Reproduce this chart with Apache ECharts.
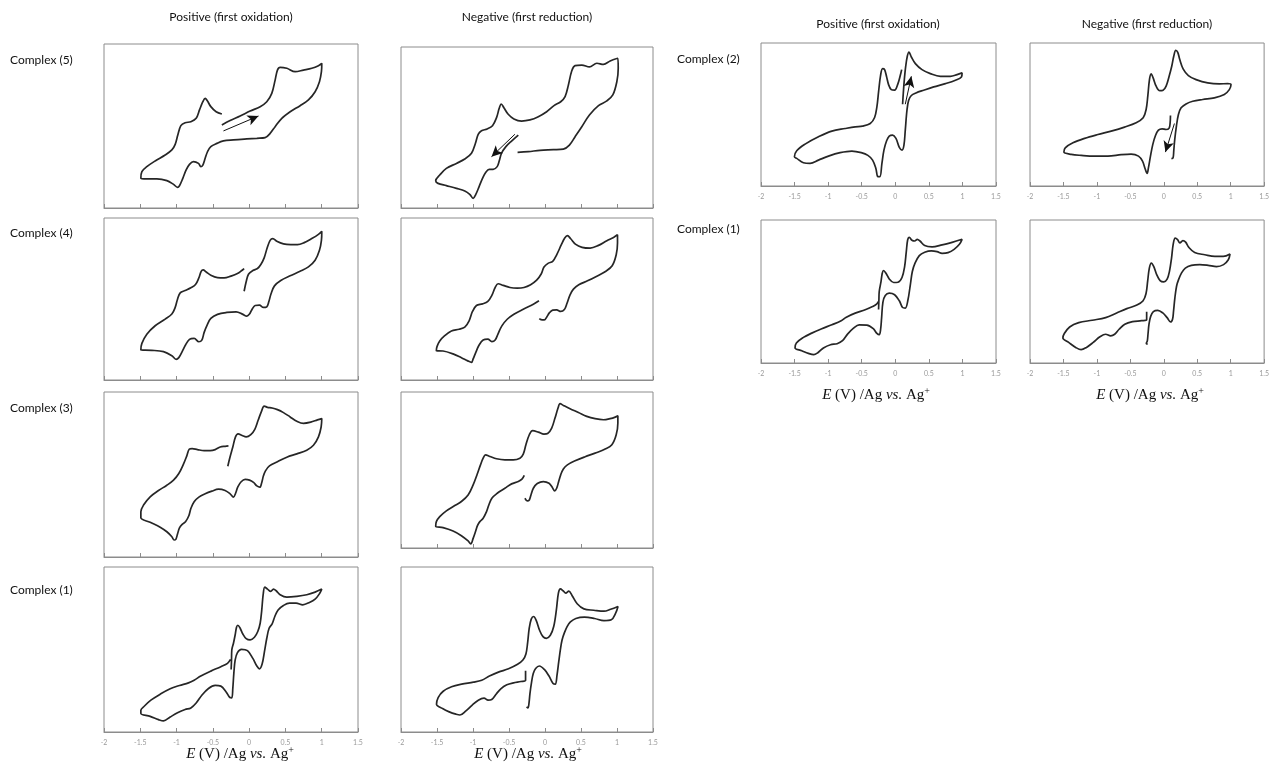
<!DOCTYPE html>
<html>
<head>
<meta charset="utf-8">
<script src="https://cdn.jsdelivr.net/npm/echarts@6/dist/echarts.min.js"></script>
<style>
  html, body { margin: 0; padding: 0; background: #fff; }
  #chart { width: 1272px; height: 772px; }
</style>
</head>
<body>
<div id="chart"></div>
<script>
// Cyclic voltammograms: [E (V vs Ag/Ag+), current (arbitrary units, 0-100)]
const xTicks = [-2, -1.5, -1, -0.5, 0, 0.5, 1, 1.5];

const cx5Ox = [[-0.376,50.6],[-0.262,53.3],[-0.124,56.1],[0.014,59.1],[0.152,61.8],[0.243,64.8],[0.312,69.9],[0.358,78.0],[0.390,84.1],[0.427,85.8],[0.519,85.2],[0.634,83.1],[0.748,84.1],[0.863,85.2],[0.955,86.8],[1.001,88.2],[0.996,83.1],[0.969,77.0],[0.909,70.9],[0.817,65.9],[0.702,62.4],[0.565,58.7],[0.450,54.7],[0.358,49.6],[0.289,45.5],[0.220,42.9],[0.106,42.5],[-0.032,42.1],[-0.216,41.5],[-0.354,40.9],[-0.445,39.4],[-0.528,37.4],[-0.574,34.3],[-0.606,30.3],[-0.638,26.2],[-0.666,25.2],[-0.698,27.2],[-0.767,28.3],[-0.822,26.6],[-0.868,23.2],[-0.914,18.1],[-0.960,13.6],[-0.987,12.6],[-1.042,14.4],[-1.134,16.7],[-1.272,17.7],[-1.410,17.7],[-1.492,18.1],[-1.478,22.2],[-1.410,25.2],[-1.295,28.7],[-1.157,32.3],[-1.065,35.4],[-1.019,38.8],[-0.983,44.5],[-0.941,50.2],[-0.882,52.0],[-0.803,52.6],[-0.730,54.7],[-0.684,59.8],[-0.638,64.8],[-0.606,66.9],[-0.574,65.2],[-0.528,61.8],[-0.455,58.7],[-0.376,57.3]];
const cx5OxArrow = [[-0.354,47.0],[0.129,56.1]];

const cx5Red = [[-0.371,45.3],[-0.464,41.6],[-0.543,38.1],[-0.604,34.0],[-0.636,29.2],[-0.664,25.7],[-0.720,24.0],[-0.775,24.0],[-0.822,22.2],[-0.868,18.4],[-0.915,13.3],[-0.961,8.5],[-0.998,6.0],[-1.045,8.5],[-1.114,10.6],[-1.230,12.2],[-1.370,13.9],[-1.486,15.3],[-1.518,17.0],[-1.462,20.5],[-1.370,24.6],[-1.230,27.7],[-1.114,30.4],[-1.021,34.0],[-0.966,40.2],[-0.928,45.8],[-0.882,48.0],[-0.803,49.1],[-0.729,51.1],[-0.673,56.1],[-0.636,61.9],[-0.608,64.6],[-0.571,62.3],[-0.511,58.2],[-0.432,55.3],[-0.325,54.0],[-0.209,54.7],[-0.093,56.7],[0.023,59.8],[0.125,63.6],[0.218,66.0],[0.279,69.2],[0.325,76.4],[0.371,85.1],[0.418,88.4],[0.511,88.8],[0.617,87.6],[0.720,89.9],[0.812,89.2],[0.905,91.3],[1.012,93.0],[1.017,86.7],[0.998,78.5],[0.942,70.2],[0.859,66.5],[0.743,63.6],[0.617,57.8],[0.511,50.5],[0.418,44.3],[0.339,39.1],[0.255,36.6],[0.116,36.2],[-0.070,35.8],[-0.232,35.0],[-0.381,34.6]];
const cx5RedArrow = [[-0.418,45.8],[-0.743,31.9]];

const cx4Ox = [[-0.069,54.8],[-0.041,60.6],[-0.009,65.3],[0.051,67.6],[0.115,68.8],[0.161,71.3],[0.207,75.4],[0.248,81.5],[0.289,86.2],[0.326,87.3],[0.381,85.6],[0.473,84.0],[0.574,83.6],[0.666,83.6],[0.758,84.8],[0.863,87.3],[0.955,89.9],[1.001,91.8],[0.996,86.2],[0.969,80.1],[0.909,73.9],[0.817,69.8],[0.702,67.1],[0.565,64.3],[0.436,61.4],[0.349,58.1],[0.303,53.4],[0.271,48.3],[0.243,45.2],[0.197,44.8],[0.142,46.2],[0.083,46.0],[0.041,43.7],[0.005,40.7],[-0.032,39.4],[-0.087,40.5],[-0.179,42.1],[-0.308,41.7],[-0.436,40.5],[-0.528,38.0],[-0.579,33.9],[-0.620,29.4],[-0.652,24.6],[-0.693,23.6],[-0.758,25.7],[-0.822,25.1],[-0.877,21.6],[-0.923,17.5],[-0.969,13.8],[-1.006,12.7],[-1.065,15.0],[-1.180,17.5],[-1.341,18.3],[-1.492,18.5],[-1.478,22.6],[-1.410,28.3],[-1.295,33.5],[-1.157,37.6],[-1.065,40.7],[-1.019,44.8],[-0.987,49.9],[-0.950,53.8],[-0.882,55.2],[-0.803,56.9],[-0.739,58.9],[-0.693,63.0],[-0.661,67.1],[-0.634,68.0],[-0.592,66.7],[-0.528,64.7],[-0.436,63.2],[-0.344,63.0],[-0.253,64.1],[-0.161,65.7],[-0.101,67.6],[-0.069,68.8]];

const cx4Red = [[-0.084,48.9],[-0.162,46.8],[-0.302,43.7],[-0.432,40.6],[-0.525,37.5],[-0.599,33.4],[-0.655,28.2],[-0.692,24.7],[-0.738,23.7],[-0.794,25.2],[-0.859,24.7],[-0.915,21.6],[-0.961,17.1],[-0.998,13.0],[-1.021,10.9],[-1.072,11.8],[-1.161,13.8],[-1.277,16.1],[-1.416,17.9],[-1.509,18.1],[-1.500,20.6],[-1.462,24.1],[-1.393,27.4],[-1.300,30.3],[-1.193,31.3],[-1.114,32.6],[-1.054,36.5],[-1.007,42.3],[-0.952,46.0],[-0.868,47.0],[-0.794,48.5],[-0.738,52.2],[-0.692,57.1],[-0.650,59.4],[-0.580,58.4],[-0.487,57.1],[-0.385,56.7],[-0.292,57.1],[-0.200,58.8],[-0.116,61.6],[-0.051,65.6],[-0.014,69.7],[0.042,72.0],[0.107,73.2],[0.162,77.3],[0.227,83.5],[0.274,87.6],[0.311,89.1],[0.357,87.2],[0.422,83.9],[0.515,81.9],[0.627,81.4],[0.743,83.1],[0.859,86.0],[0.952,88.0],[1.007,89.7],[1.007,84.5],[0.989,77.3],[0.933,70.5],[0.840,67.0],[0.720,64.1],[0.590,61.2],[0.469,58.8],[0.395,56.1],[0.348,52.6],[0.306,47.4],[0.269,43.5],[0.218,42.3],[0.162,43.3],[0.107,43.1],[0.060,41.4],[0.023,38.8],[-0.009,37.1],[-0.056,37.3],[-0.079,37.9]];

const cx3Ox = [[-0.294,55.0],[-0.266,60.1],[-0.225,66.7],[-0.188,72.8],[-0.152,74.6],[-0.096,73.6],[-0.041,72.8],[0.023,74.2],[0.078,77.4],[0.124,82.9],[0.170,88.3],[0.207,91.5],[0.253,90.7],[0.317,90.3],[0.390,89.3],[0.473,87.5],[0.565,84.9],[0.657,82.3],[0.748,81.0],[0.849,81.7],[0.941,83.1],[1.001,83.9],[0.992,78.8],[0.955,72.8],[0.886,67.7],[0.794,64.7],[0.657,62.5],[0.519,60.5],[0.390,57.7],[0.280,55.2],[0.225,52.2],[0.197,49.2],[0.174,45.2],[0.147,42.3],[0.106,43.1],[0.060,45.2],[0.005,46.6],[-0.055,47.0],[-0.110,45.6],[-0.156,42.5],[-0.188,38.5],[-0.216,36.3],[-0.262,38.3],[-0.331,40.3],[-0.422,41.1],[-0.514,39.9],[-0.606,38.3],[-0.693,36.3],[-0.758,33.5],[-0.803,29.4],[-0.831,25.0],[-0.877,21.4],[-0.923,19.8],[-0.960,17.7],[-0.987,13.9],[-1.010,10.7],[-1.033,10.3],[-1.065,12.3],[-1.134,15.3],[-1.226,18.1],[-1.364,21.0],[-1.492,23.8],[-1.492,27.4],[-1.455,31.5],[-1.364,36.5],[-1.249,40.3],[-1.134,43.5],[-1.042,46.6],[-0.969,50.6],[-0.905,56.3],[-0.859,61.3],[-0.826,65.3],[-0.785,65.7],[-0.712,65.1],[-0.620,64.5],[-0.537,64.5],[-0.468,65.1],[-0.399,66.7],[-0.331,67.1],[-0.285,67.3]];

const cx3Red = [[-0.288,46.5],[-0.320,44.1],[-0.371,42.6],[-0.464,41.1],[-0.557,38.3],[-0.664,35.1],[-0.738,31.9],[-0.780,27.6],[-0.812,23.3],[-0.859,19.1],[-0.905,16.9],[-0.938,14.3],[-0.961,11.1],[-0.998,6.2],[-1.031,2.6],[-1.068,4.5],[-1.161,7.9],[-1.277,10.9],[-1.416,13.1],[-1.518,13.9],[-1.509,16.9],[-1.462,20.1],[-1.370,23.8],[-1.253,27.2],[-1.161,29.8],[-1.068,34.0],[-0.998,40.5],[-0.942,47.3],[-0.896,53.3],[-0.859,57.6],[-0.826,59.7],[-0.766,58.7],[-0.673,57.2],[-0.557,56.5],[-0.441,56.5],[-0.348,57.6],[-0.302,60.2],[-0.265,66.2],[-0.218,72.6],[-0.172,75.2],[-0.093,74.3],[-0.014,73.0],[0.037,73.4],[0.093,76.9],[0.139,83.3],[0.181,89.7],[0.209,92.5],[0.255,91.4],[0.348,89.3],[0.464,86.9],[0.580,84.4],[0.696,82.9],[0.812,82.2],[0.905,82.9],[0.975,83.9],[1.012,84.8],[1.012,80.1],[0.989,72.6],[0.929,66.2],[0.836,63.4],[0.696,60.8],[0.557,58.5],[0.418,55.9],[0.311,53.3],[0.255,50.7],[0.218,46.9],[0.190,42.6],[0.162,38.3],[0.135,36.6],[0.102,38.8],[0.056,41.5],[-0.023,42.6],[-0.107,41.3],[-0.162,38.3],[-0.195,34.0],[-0.218,30.8],[-0.246,30.2],[-0.279,31.9]];

const cx1Ox = [[-0.248,37.9],[-0.243,43.6],[-0.239,49.7],[-0.216,53.8],[-0.193,58.8],[-0.174,63.5],[-0.156,64.7],[-0.124,62.9],[-0.087,59.4],[-0.041,56.6],[0.014,55.8],[0.073,57.4],[0.119,60.9],[0.152,65.9],[0.174,74.0],[0.193,83.2],[0.216,87.8],[0.253,86.6],[0.298,85.2],[0.335,86.6],[0.372,85.6],[0.427,83.2],[0.519,81.7],[0.657,82.2],[0.794,83.2],[0.909,84.8],[1.001,86.6],[0.969,83.8],[0.909,80.5],[0.831,78.5],[0.739,77.1],[0.647,78.1],[0.556,78.1],[0.473,76.7],[0.399,74.0],[0.354,70.0],[0.317,65.5],[0.275,62.9],[0.243,56.8],[0.211,48.7],[0.179,41.2],[0.142,38.3],[0.106,40.0],[0.051,44.6],[-0.023,49.3],[-0.106,50.1],[-0.161,48.1],[-0.193,43.6],[-0.211,35.5],[-0.225,26.4],[-0.239,20.7],[-0.266,20.9],[-0.317,24.3],[-0.390,27.8],[-0.468,28.2],[-0.560,26.4],[-0.652,22.3],[-0.730,17.6],[-0.803,14.6],[-0.882,13.6],[-0.987,11.6],[-1.088,9.1],[-1.180,6.7],[-1.249,7.5],[-1.364,9.5],[-1.492,11.2],[-1.492,13.2],[-1.446,15.6],[-1.354,19.3],[-1.226,22.9],[-1.088,26.2],[-0.960,28.2],[-0.836,29.8],[-0.758,31.4],[-0.666,33.9],[-0.528,36.9],[-0.390,39.6],[-0.298,41.6],[-0.257,44.0]];

const cx1Red = [[-0.270,37.1],[-0.270,31.4],[-0.335,30.6],[-0.437,29.8],[-0.530,28.6],[-0.614,26.2],[-0.679,22.9],[-0.740,19.7],[-0.791,19.3],[-0.847,20.5],[-0.926,19.3],[-1.014,16.2],[-1.098,12.8],[-1.181,10.3],[-1.237,10.8],[-1.330,12.2],[-1.423,14.2],[-1.507,16.8],[-1.484,20.9],[-1.414,24.7],[-1.298,27.4],[-1.158,29.0],[-0.995,30.2],[-0.879,31.4],[-0.772,33.9],[-0.647,36.3],[-0.507,38.3],[-0.381,41.0],[-0.307,43.6],[-0.265,47.3],[-0.242,53.8],[-0.219,62.9],[-0.191,68.4],[-0.158,70.0],[-0.121,67.5],[-0.074,61.5],[-0.028,57.8],[0.019,56.8],[0.074,58.6],[0.121,63.9],[0.158,74.0],[0.186,84.2],[0.214,86.8],[0.251,85.6],[0.288,84.2],[0.330,85.4],[0.377,82.6],[0.447,77.7],[0.540,74.6],[0.679,73.8],[0.819,73.2],[0.912,74.4],[1.014,76.1],[0.981,72.0],[0.921,68.0],[0.819,67.5],[0.688,68.8],[0.549,69.6],[0.428,68.8],[0.353,66.7],[0.307,63.9],[0.270,60.2],[0.237,55.8],[0.214,50.1],[0.191,42.6],[0.167,34.5],[0.144,29.0],[0.112,29.4],[0.056,33.9],[-0.009,37.9],[-0.079,40.0],[-0.130,38.5],[-0.163,35.5],[-0.186,30.4],[-0.209,23.3],[-0.223,17.2],[-0.237,14.6],[-0.256,15.2]];

const cx2Ox = [[0.109,57.2],[0.119,64.7],[0.134,74.0],[0.154,83.3],[0.179,90.7],[0.204,93.7],[0.239,90.2],[0.299,85.6],[0.398,81.4],[0.522,78.6],[0.672,76.7],[0.821,76.7],[0.920,77.9],[0.995,79.1],[0.985,76.3],[0.896,74.0],[0.746,71.6],[0.572,69.3],[0.423,67.0],[0.308,65.1],[0.239,63.3],[0.199,60.0],[0.174,53.0],[0.149,39.1],[0.129,28.6],[0.100,25.1],[0.060,27.0],[0.010,33.3],[-0.040,35.6],[-0.090,34.9],[-0.129,31.6],[-0.169,25.1],[-0.199,15.8],[-0.229,6.5],[-0.259,6.5],[-0.289,12.3],[-0.338,18.1],[-0.408,21.4],[-0.507,23.3],[-0.647,24.4],[-0.821,23.3],[-0.995,20.9],[-1.144,18.1],[-1.269,15.8],[-1.368,16.3],[-1.468,19.3],[-1.502,20.5],[-1.468,24.7],[-1.343,29.3],[-1.144,34.4],[-0.945,38.4],[-0.746,40.2],[-0.597,41.4],[-0.488,41.9],[-0.373,43.7],[-0.308,47.9],[-0.274,55.3],[-0.249,65.8],[-0.219,77.4],[-0.189,82.1],[-0.159,81.4],[-0.129,76.3],[-0.100,70.9],[-0.060,67.4],[-0.010,67.0],[0.040,71.6],[0.075,77.4],[0.095,81.4]];
const cx2OxArrow = [[0.149,57.2],[0.239,76.7]];

const cx2Red = [[0.100,49.3],[0.095,44.2],[0.080,40.5],[0.035,39.5],[-0.025,40.0],[-0.080,39.1],[-0.124,35.3],[-0.164,29.1],[-0.199,20.9],[-0.229,12.8],[-0.249,8.8],[-0.279,12.1],[-0.318,17.4],[-0.378,20.9],[-0.488,22.3],[-0.637,21.9],[-0.836,20.9],[-1.035,20.9],[-1.234,21.4],[-1.383,22.1],[-1.493,23.7],[-1.473,26.7],[-1.358,30.2],[-1.184,33.3],[-0.985,36.0],[-0.786,38.4],[-0.587,41.2],[-0.413,44.2],[-0.308,47.7],[-0.264,53.5],[-0.239,62.8],[-0.214,74.4],[-0.189,78.4],[-0.159,75.6],[-0.114,69.8],[-0.060,66.7],[-0.010,67.0],[0.035,69.8],[0.080,76.7],[0.119,83.7],[0.149,90.7],[0.179,94.9],[0.209,93.5],[0.239,88.4],[0.289,81.9],[0.368,77.2],[0.483,74.4],[0.657,72.1],[0.831,71.4],[0.955,71.6],[1.005,70.9],[0.980,67.4],[0.905,64.0],[0.756,61.6],[0.582,60.5],[0.433,59.3],[0.333,57.4],[0.259,54.7],[0.219,50.0],[0.189,41.9],[0.164,32.6],[0.149,24.4],[0.139,19.8],[0.114,19.1]];
const cx2RedArrow = [[0.159,43.7],[0.025,23.7]];

const cx1bOx = [[-0.249,37.4],[-0.244,44.2],[-0.239,50.0],[-0.214,56.5],[-0.194,62.8],[-0.174,64.7],[-0.139,62.8],[-0.090,58.8],[-0.025,56.3],[0.040,56.5],[0.100,59.8],[0.139,67.4],[0.164,77.9],[0.184,86.0],[0.209,87.9],[0.249,85.8],[0.289,85.3],[0.328,86.5],[0.368,85.3],[0.438,82.1],[0.547,81.2],[0.697,82.6],[0.846,84.4],[0.995,86.5],[0.955,83.0],[0.876,79.5],[0.786,77.2],[0.697,76.7],[0.622,77.9],[0.537,78.4],[0.438,77.4],[0.358,75.1],[0.294,69.8],[0.254,64.0],[0.224,54.7],[0.189,44.2],[0.149,38.4],[0.109,38.8],[0.060,43.5],[-0.010,47.7],[-0.090,48.8],[-0.149,47.2],[-0.184,42.6],[-0.204,31.4],[-0.219,23.3],[-0.239,19.8],[-0.274,20.7],[-0.328,24.0],[-0.423,26.5],[-0.537,26.7],[-0.622,24.4],[-0.711,20.2],[-0.786,15.6],[-0.866,13.5],[-0.965,12.8],[-1.070,10.5],[-1.154,7.2],[-1.214,5.8],[-1.294,6.7],[-1.393,8.6],[-1.493,10.5],[-1.473,14.0],[-1.368,17.9],[-1.244,20.9],[-1.095,24.0],[-0.945,26.7],[-0.806,29.5],[-0.736,31.9],[-0.597,34.9],[-0.448,37.2],[-0.338,39.5],[-0.279,41.2],[-0.254,43.0]];

const cx1bRed = [[-0.256,35.9],[-0.256,30.3],[-0.332,29.6],[-0.467,28.9],[-0.583,27.1],[-0.668,23.6],[-0.734,20.1],[-0.794,19.0],[-0.869,20.1],[-0.955,18.3],[-1.055,14.4],[-1.156,10.9],[-1.236,9.3],[-1.317,10.9],[-1.422,14.4],[-1.508,17.4],[-1.487,20.6],[-1.407,25.2],[-1.271,28.2],[-1.070,29.9],[-0.869,31.7],[-0.704,35.0],[-0.553,38.0],[-0.402,40.5],[-0.312,43.3],[-0.266,48.4],[-0.241,57.2],[-0.216,66.4],[-0.186,69.9],[-0.151,67.6],[-0.106,61.8],[-0.055,57.6],[0.000,56.7],[0.050,58.6],[0.085,64.1],[0.116,73.4],[0.141,83.1],[0.171,87.3],[0.206,86.3],[0.241,84.0],[0.286,85.6],[0.327,84.5],[0.372,81.0],[0.462,77.3],[0.613,75.7],[0.764,74.5],[0.889,74.5],[0.990,76.2],[0.965,72.2],[0.894,68.8],[0.789,67.4],[0.663,68.3],[0.538,68.8],[0.412,68.3],[0.322,66.4],[0.266,63.0],[0.221,58.3],[0.191,53.7],[0.166,45.6],[0.146,36.3],[0.131,30.6],[0.101,28.7],[0.050,31.7],[-0.015,35.0],[-0.090,36.8],[-0.156,35.9],[-0.196,32.6],[-0.221,27.1],[-0.236,20.1],[-0.246,15.5],[-0.261,13.7],[-0.241,13.2]];

// Layout of the twelve panels (pixels)
const panels = [
  { data: cx5Ox,  arrow: cx5OxArrow,  left: 104,  top: 44,  width: 254, height: 164, labels: false },
  { data: cx5Red, arrow: cx5RedArrow, left: 401,  top: 47,  width: 252, height: 161, labels: false },
  { data: cx4Ox,  left: 104,  top: 218, width: 254, height: 162, labels: false },
  { data: cx4Red, left: 401,  top: 218, width: 252, height: 162, labels: false },
  { data: cx3Ox,  left: 104,  top: 392, width: 254, height: 165, labels: false },
  { data: cx3Red, left: 401,  top: 392, width: 252, height: 156, labels: false },
  { data: cx1Ox,  left: 104,  top: 567, width: 254, height: 165, labels: true },
  { data: cx1Red, left: 401,  top: 567, width: 252, height: 165, labels: true },
  { data: cx2Ox,  arrow: cx2OxArrow,  left: 761,  top: 43,  width: 235, height: 143, labels: true },
  { data: cx2Red, arrow: cx2RedArrow, left: 1030, top: 43,  width: 235, height: 143, labels: true },
  { data: cx1bOx, left: 761,  top: 220, width: 235, height: 143, labels: true },
  { data: cx1bRed, left: 1030, top: 220, width: 235, height: 143, labels: true }
];

const lineColor = '#262626';
const frameColor = '#8c8c8c';
const sansFont = 'Lato, "Liberation Sans", sans-serif';
const serifFont = '"Liberation Serif", "DejaVu Serif", serif';

const grid = [], xAxis = [], yAxis = [], series = [];
panels.forEach((p, i) => {
  grid.push({ left: p.left, top: p.top, width: p.width, height: p.height,
              show: true, borderColor: frameColor, borderWidth: 1, backgroundColor: 'transparent' });
  xAxis.push({
    type: 'value', gridIndex: i, min: xTicks[0], max: xTicks[xTicks.length - 1], interval: 0.5,
    axisLine: { show: true, onZero: false, lineStyle: { color: frameColor, width: 1 } },
    axisTick: { show: true, inside: true, length: 4, lineStyle: { color: frameColor } },
    axisLabel: { show: p.labels, fontSize: 7, color: '#9a9a9a', margin: 7, fontFamily: sansFont,
                 formatter: v => String(v) },
    splitLine: { show: false }
  });
  yAxis.push({ type: 'value', gridIndex: i, min: 0, max: 100, show: false, splitLine: { show: false } });
  const s = {
    type: 'line', xAxisIndex: i, yAxisIndex: i, data: p.data,
    showSymbol: false, smooth: 0.35, silent: true,
    lineStyle: { color: lineColor, width: 1.7 },
    z: 3
  };
  if (p.arrow) {
    s.markLine = {
      silent: true, symbol: ['none', 'arrow'], symbolSize: [8, 11],
      label: { show: false },
      lineStyle: { color: '#111', width: 1, type: 'solid' },
      data: [[{ coord: p.arrow[0] }, { coord: p.arrow[1] }]]
    };
  }
  series.push(s);
});

const textEl = (x, y, text, extra) => Object.assign({
  type: 'text', x: x, y: y, silent: true,
  style: Object.assign({ text: text, fill: '#111', font: '12px ' + sansFont,
                         textAlign: 'left', textVerticalAlign: 'middle' }, extra || {})
});

const xLabelEl = (cx, cy) => ({
  type: 'text', x: cx, y: cy, silent: true,
  style: {
    text: '{i|E} (V) /Ag {i|vs.} Ag{sup|+}',
    textAlign: 'center', textVerticalAlign: 'middle',
    fill: '#111', font: '15px ' + serifFont,
    rich: {
      i: { fontStyle: 'italic', fontSize: 15, fontFamily: serifFont, fill: '#111' },
      sup: { fontSize: 10, fontFamily: serifFont, fill: '#111', verticalAlign: 'top', padding: [0, 0, 8, 0] }
    }
  }
});

const graphic = [
  textEl(231, 17, 'Positive (first oxidation)', { textAlign: 'center' }),
  textEl(527, 17, 'Negative (first reduction)', { textAlign: 'center' }),
  textEl(878, 24, 'Positive (first oxidation)', { textAlign: 'center' }),
  textEl(1147, 24, 'Negative (first reduction)', { textAlign: 'center' }),
  textEl(10, 60, 'Complex (5)'),
  textEl(10, 233, 'Complex (4)'),
  textEl(10, 408, 'Complex (3)'),
  textEl(10, 590, 'Complex (1)'),
  textEl(677, 59, 'Complex (2)'),
  textEl(677, 229, 'Complex (1)'),
  xLabelEl(240, 754),
  xLabelEl(528, 754),
  xLabelEl(876, 395),
  xLabelEl(1150, 395)
];

const chart = echarts.init(document.getElementById('chart'), null, { renderer: 'canvas' });
chart.setOption({
  animation: false,
  backgroundColor: '#ffffff',
  grid: grid, xAxis: xAxis, yAxis: yAxis, series: series, graphic: graphic
});
</script>
</body>
</html>
